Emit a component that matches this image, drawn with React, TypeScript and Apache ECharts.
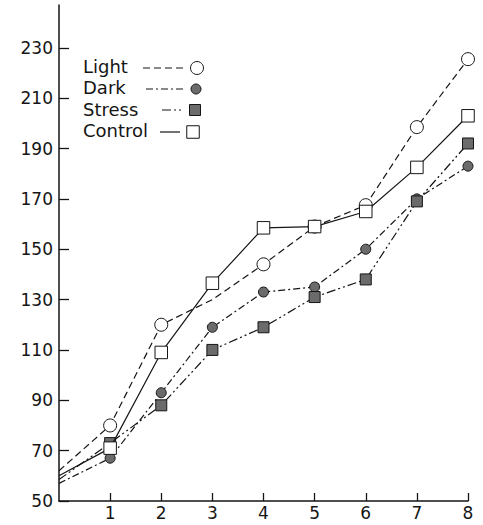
import React, { useEffect, useRef } from "react";
import * as echarts from "echarts";

const xValues = [0, 1, 2, 3, 4, 5, 6, 7, 8];
const lightValues = [62, 80, 120, 130, 144, 159, 167.5, 198.5, 225.5];
const darkValues = [57, 67, 93, 119, 133, 135, 150, 170, 183];
const stressValues = [58.5, 73, 88, 110, 119, 131, 138, 169, 192];
const controlValues = [60, 71, 109, 136.5, 158.5, 159, 165, 182.5, 203];
const yTickValues = [50, 70, 90, 110, 130, 150, 170, 190, 210, 230];
const xTickValues = [1, 2, 3, 4, 5, 6, 7, 8];
const seriesNames = ["Light", "Dark", "Stress", "Control"];
const hiddenMarkers: Record<string, number[]> = { Light: [0, 3], Dark: [0], Stress: [0], Control: [0] };

const INK = "#151515";
const GREY = "#6b6b6b";
const FONT = "DejaVu Sans";

function buildData(name: string, values: number[]) {
  return xValues.map((x, i) =>
    hiddenMarkers[name].includes(i) ? { value: [x, values[i]], symbol: "none" } : { value: [x, values[i]] }
  );
}

export default function App() {
  const ref = useRef<HTMLDivElement>(null);
  useEffect(() => {
    document.body.style.margin = "0";
    const chart = echarts.init(ref.current!, undefined, { renderer: "svg" });
    const styles: Record<string, any> = {
      Light: { dash: [7, 4], symbol: "circle", size: 13, fill: "#fff" },
      Dark: { dash: [7, 3, 2, 3], symbol: "circle", size: 10, fill: GREY },
      Stress: { dash: [9, 3, 2, 3, 2, 3], symbol: "rect", size: 11, fill: GREY },
      Control: { dash: "solid", symbol: "rect", size: 12.5, fill: "#fff" },
    };
    const valuesByName: Record<string, number[]> = {
      Light: lightValues,
      Dark: darkValues,
      Stress: stressValues,
      Control: controlValues,
    };
    const legendRows = [
      { y: 66, x1: 143, x2: 184, mx: 197, my: 68 },
      { y: 87, x1: 146, x2: 186, mx: 196, my: 89 },
      { y: 109, x1: 162, x2: 183, mx: 195, my: 110 },
      { y: 130, x1: 160, x2: 180, mx: 193, my: 132 },
    ];
    const graphic: any[] = [];
    seriesNames.forEach((name, i) => {
      const s = styles[name];
      const r = legendRows[i];
      graphic.push({
        type: "text",
        x: 83,
        y: r.y,
        style: { text: name, fontFamily: FONT, fontSize: 18, fontWeight: "normal", fill: INK, verticalAlign: "middle" },
      });
      graphic.push({
        type: "line",
        shape: { x1: r.x1, y1: r.my, x2: r.x2, y2: r.my },
        style: { stroke: INK, lineWidth: 1.2, lineDash: s.dash === "solid" ? null : s.dash },
      });
      if (s.symbol === "circle") {
        graphic.push({
          type: "circle",
          shape: { cx: r.mx, cy: r.my, r: s.size / 2 },
          style: { fill: s.fill, stroke: INK, lineWidth: 1 },
        });
      } else {
        graphic.push({
          type: "rect",
          shape: { x: r.mx - s.size / 2, y: r.my - s.size / 2, width: s.size, height: s.size },
          style: { fill: s.fill, stroke: INK, lineWidth: 1 },
        });
      }
    });

    chart.setOption({
      animation: false,
      backgroundColor: "#fff",
      grid: { left: 59, right: 15, top: 5, bottom: 24 },
      xAxis: {
        type: "value",
        min: 0,
        max: 8,
        splitLine: { show: false },
        axisLine: { show: true, lineStyle: { color: INK, width: 1.5 } },
        axisTick: { show: true, inside: true, length: 8, customValues: xTickValues, lineStyle: { color: INK, width: 1.3 } },
        axisLabel: { customValues: xTickValues, fontFamily: FONT, fontSize: 17, color: INK, margin: 3 },
      },
      yAxis: {
        type: "value",
        min: 50,
        max: 247,
        splitLine: { show: false },
        axisLine: { show: true, lineStyle: { color: INK, width: 1.5 } },
        axisTick: { show: true, inside: true, length: 10, customValues: yTickValues, lineStyle: { color: INK, width: 1.3 } },
        axisLabel: { customValues: yTickValues, fontFamily: FONT, fontSize: 17, color: INK, margin: 6 },
      },
      graphic,
      series: seriesNames.map((name) => {
        const s = styles[name];
        return {
          name,
          type: "line",
          data: buildData(name, valuesByName[name]),
          symbol: s.symbol,
          symbolSize: s.size,
          showSymbol: true,
          lineStyle: { color: INK, width: 1.2, type: s.dash },
          itemStyle: { color: s.fill, borderColor: INK, borderWidth: 1 },
          z: name === "Control" || name === "Light" ? 3 : 2,
        };
      }),
    });
    return () => chart.dispose();
  }, []);
  return <div ref={ref} style={{ width: 483, height: 525 }} />;
}
